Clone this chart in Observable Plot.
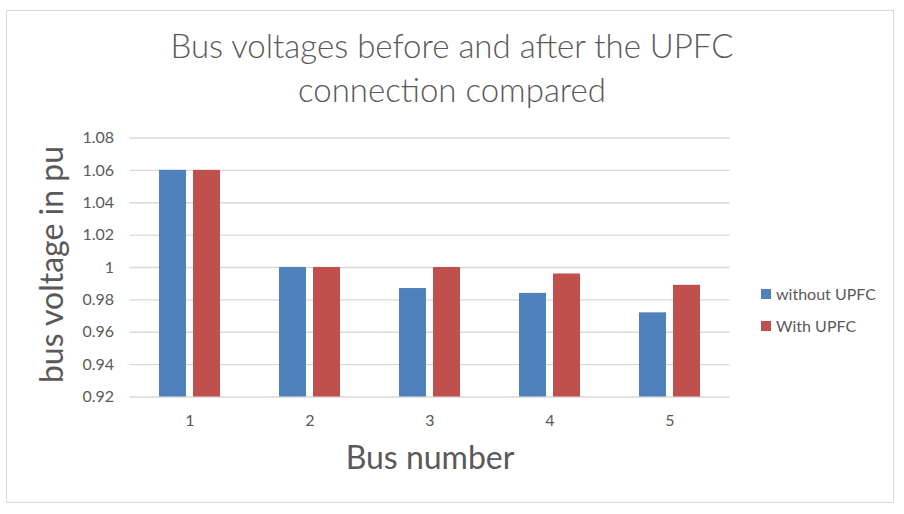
<!DOCTYPE html>
<html>
<head>
<meta charset="utf-8">
<script src="https://cdn.jsdelivr.net/npm/d3@7"></script>
<script src="https://cdn.jsdelivr.net/npm/@observablehq/plot@0.6"></script>
<style>
  html, body { margin: 0; padding: 0; background: #fff; }
  #wrap { position: relative; width: 904px; height: 514px; overflow: hidden; font-family: Lato, "Open Sans", sans-serif; color: #595959; }
  #frame { position: absolute; left: 6px; top: 10px; width: 888px; height: 493px; border: 1.5px solid #d9d9d9; box-sizing: border-box; }
  #title { position: absolute; left: 0; top: 23px; width: 904px; text-align: center; font-size: 33px; line-height: 44px; font-weight: 300; }
  #chart { position: absolute; left: 0; top: 120px; }
  .leg { position: absolute; left: 761px; font-size: 16px; display: flex; align-items: center; }
  .sw { width: 10px; height: 10px; margin-right: 5px; }
</style>
</head>
<body>
<div id="wrap">
  <div id="frame"></div>
  <div id="title"></div>
  <div id="chart"></div>
  <div id="legend"></div>
</div>
<script>
// ---- data ----
const titleLines = ["Bus voltages before and after the UPFC", "connection compared"];
const buses = ["1", "2", "3", "4", "5"];
const withoutUPFC = [1.06, 1.00, 0.987, 0.984, 0.972];
const withUPFC = [1.06, 1.00, 1.00, 0.996, 0.989];
const seriesNames = ["without UPFC", "With UPFC"];
const seriesColors = ["#4f81bd", "#c0504d"];
const yTicks = [0.92, 0.94, 0.96, 0.98, 1.00, 1.02, 1.04, 1.06, 1.08];
const xLabel = "Bus number";
const yLabel = "bus voltage in pu";

const rows = buses.map((b, i) => ({bus: b, without: withoutUPFC[i], with: withUPFC[i]}));
const y0 = yTicks[0];

document.getElementById("title").innerHTML = titleLines.map(t => `<div>${t}</div>`).join("");

const chart = Plot.plot({
  width: 904,
  height: 394,
  marginTop: 17.5,
  marginBottom: 117.5,
  marginLeft: 129.5,
  marginRight: 174.5,
  style: {fontFamily: "Lato, 'Open Sans', sans-serif", fontSize: "16px", color: "#595959", background: "transparent", overflow: "visible"},
  x: {type: "band", domain: buses, paddingInner: 0.4917, paddingOuter: 0.2458, label: null, tickSize: 0, tickPadding: 18},
  y: {domain: [yTicks[0], yTicks[yTicks.length - 1]], ticks: yTicks, tickFormat: d => String(+d.toFixed(2)), label: null, tickSize: 0, tickPadding: 16},
  marks: [
    Plot.ruleY(yTicks, {stroke: "#d9d9d9", strokeWidth: 1.3}),
    Plot.barY(rows, {x: "bus", y1: y0, y2: "without", fill: seriesColors[0], insetRight: 34}),
    Plot.barY(rows, {x: "bus", y1: y0, y2: "with", fill: seriesColors[1], insetLeft: 34}),
    Plot.text([xLabel], {text: d => d, frameAnchor: "bottom", lineAnchor: "middle", textAnchor: "middle", dy: 62, fontSize: 32, fill: "#595959"}),
    Plot.text([yLabel], {text: d => d, frameAnchor: "left", lineAnchor: "middle", textAnchor: "middle", rotate: -90, dx: -77, dy: -3, fontSize: 32, fill: "#595959"})
  ]
});
document.getElementById("chart").appendChild(chart);

const legend = document.getElementById("legend");
seriesNames.forEach((name, i) => {
  const el = document.createElement("div");
  el.className = "leg";
  el.style.top = (284 + i * 32) + "px";
  el.innerHTML = `<span class="sw" style="background:${seriesColors[i]}"></span><span>${name}</span>`;
  legend.appendChild(el);
});
</script>
</body>
</html>
